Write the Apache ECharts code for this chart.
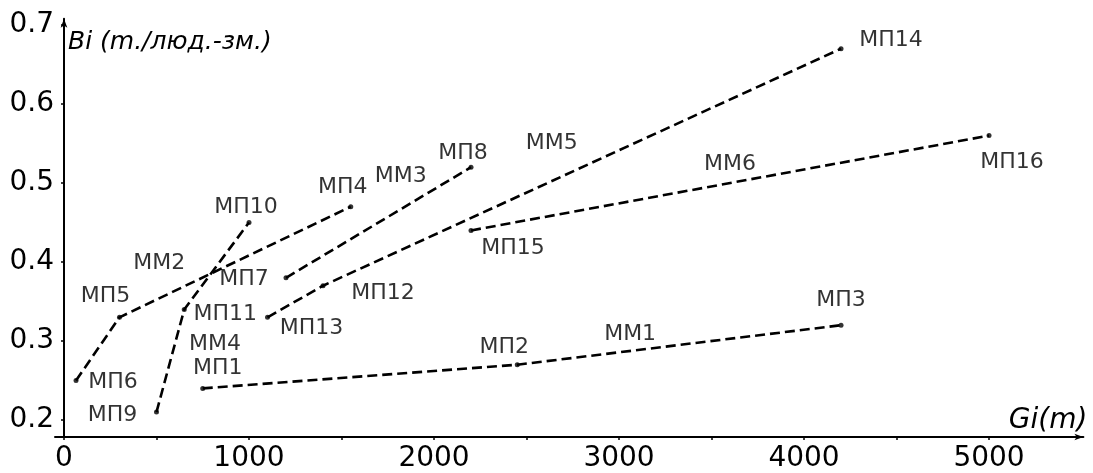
<!DOCTYPE html>
<html>
<head>
<meta charset="utf-8">
<script src="https://cdn.jsdelivr.net/npm/echarts@6/dist/echarts.min.js"></script>
<style>
html,body{margin:0;padding:0;background:#fff;}
#c{width:1093px;height:473px;}
</style>
</head>
<body>
<div id="c"></div>
<script>
// ---- data ----
const pointNames = ['МП1','МП2','МП3','МП4','МП5','МП6','МП7','МП8','МП9','МП10','МП11','МП12','МП13','МП14','МП15','МП16'];
const pointG = [750, 2450, 4200, 1550, 300, 65, 1200, 2200, 500, 1000, 650, 1400, 1100, 4200, 2200, 5000];
const pointB = [0.24, 0.27, 0.32, 0.47, 0.33, 0.25, 0.38, 0.52, 0.21, 0.45, 0.34, 0.37, 0.33, 0.67, 0.44, 0.56];

const lineNames = ['ММ1','ММ2','ММ3','ММ4','ММ5','ММ6'];
const linePoints = [
  ['МП1','МП2','МП3'],
  ['МП6','МП5','МП4'],
  ['МП7','МП8'],
  ['МП9','МП11','МП10'],
  ['МП13','МП12','МП14'],
  ['МП15','МП16']
];
// anchor (data coords) of the line name texts
const lineLabelG = [3060, 515, 1820, 816, 2636, 3600];
const lineLabelB = [0.309, 0.399, 0.509, 0.296, 0.55, 0.524];

const xTickValues = [0,500,1000,1500,2000,2500,3000,3500,4000,4500,5000];
const xLabelValues = [0,1000,2000,3000,4000,5000];
const yTickValues = [0.2,0.3,0.4,0.5,0.6,0.7];

// ---- layout (label offsets in px, relative to point) ----
const pointLabelOffset = {
  'МП1':[15,-20],'МП2':[-13,-17],'МП3':[0,-25],'МП4':[-8,-19],'МП5':[-14,-21],
  'МП6':[37,2],'МП7':[-42,1],'МП8':[-8,-14],'МП9':[-44,3],'МП10':[-3,-15],
  'МП11':[41,5],'МП12':[60,8],'МП13':[44,11],'МП14':[50,-8],'МП15':[42,18],'МП16':[23,27]
};

const FONT = 'DejaVu Sans';
const idx = n => pointNames.indexOf(n);

const series = [];
linePoints.forEach((pts, i) => {
  series.push({
    type: 'line',
    name: lineNames[i],
    data: pts.map(n => [pointG[idx(n)], pointB[idx(n)]]),
    showSymbol: false,
    symbol: 'none',
    lineStyle: { color: '#000', width: 2.6, type: [10, 5] },
    silent: true,
    z: 2
  });
});

const textLabel = {
  show: true,
  position: 'inside',
  formatter: p => p.name,
  color: '#000',
  fontFamily: FONT,
  fontSize: 22,
  align: 'center',
  verticalAlign: 'middle'
};

series.push({
  type: 'scatter',
  symbol: 'circle',
  symbolSize: 5,
  itemStyle: { color: '#000' },
  data: pointNames.map((n, i) => ({
    value: [pointG[i], pointB[i]],
    name: n,
    label: { offset: pointLabelOffset[n] }
  })),
  label: textLabel,
  silent: true,
  z: 3
});

series.push({
  type: 'scatter',
  symbol: 'circle',
  symbolSize: 1,
  itemStyle: { color: 'rgba(0,0,0,0)' },
  data: lineNames.map((n, i) => ({ value: [lineLabelG[i], lineLabelB[i]], name: n })),
  label: textLabel,
  silent: true,
  z: 3
});

const chart = echarts.init(document.getElementById('c'), null, { renderer: 'canvas' });
chart.setOption({
  backgroundColor: '#fff',
  animation: false,
  grid: { left: 55, right: 9.6, top: 18.7, bottom: 35, containLabel: false },
  xAxis: {
    type: 'value',
    min: -48.6,
    max: 5510,
    name: 'Gi(m)',
    nameLocation: 'end',
    nameGap: 4,
    nameTextStyle: { fontFamily: FONT, fontStyle: 'italic', fontSize: 28, color: '#000', align: 'right', verticalAlign: 'bottom', padding: [0, 0, 2, 0] },
    axisLine: { onZero: false, lineStyle: { color: '#000', width: 2 }, symbol: ['none', 'arrow'], symbolSize: [5, 9] },
    axisTick: { show: true, customValues: xTickValues, length: 3, lineStyle: { color: '#000', width: 1.5 } },
    axisLabel: { customValues: xLabelValues, color: '#000', fontFamily: FONT, fontSize: 28, margin: 8, formatter: v => String(v) },
    splitLine: { show: false }
  },
  yAxis: {
    type: 'value',
    min: 0.1785,
    max: 0.708,
    name: 'Bi (m./люд.-зм.)',
    nameLocation: 'end',
    nameGap: -11,
    nameTextStyle: { fontFamily: FONT, fontStyle: 'italic', fontSize: 25, color: '#000', align: 'left', verticalAlign: 'top', padding: [0, 0, 0, 4] },
    axisLine: { onZero: true, lineStyle: { color: '#000', width: 2 }, symbol: ['none', 'arrow'], symbolSize: [5, 9] },
    axisTick: { show: true, customValues: yTickValues, length: 3, lineStyle: { color: '#000', width: 1.5 } },
    axisLabel: { customValues: yTickValues, color: '#000', fontFamily: FONT, fontSize: 28, margin: 1, formatter: v => v.toFixed(1) },
    splitLine: { show: false }
  },
  series: series
});
</script>
</body>
</html>
